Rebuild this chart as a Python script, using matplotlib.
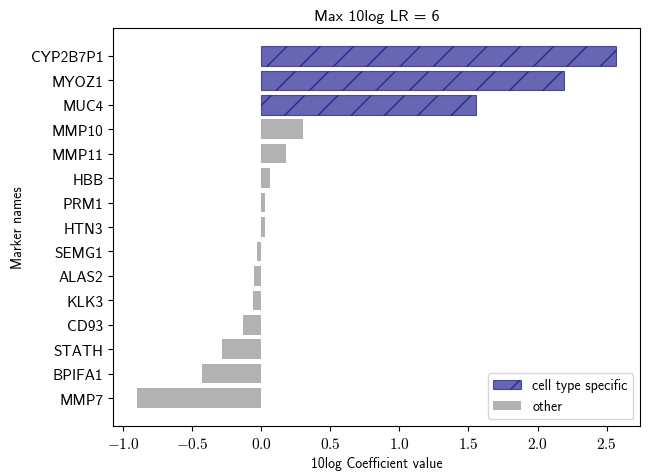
import matplotlib
matplotlib.use('Agg')
import matplotlib.pyplot as plt
from matplotlib.ticker import FuncFormatter

plt.rcParams['mathtext.fontset'] = 'cm'
plt.rcParams['font.family'] = ['cmss10', 'DejaVu Sans']

# Marker coefficients, top to bottom
markers = ['CYP2B7P1', 'MYOZ1', 'MUC4', 'MMP10', 'MMP11', 'HBB', 'PRM1',
           'HTN3', 'SEMG1', 'ALAS2', 'KLK3', 'CD93', 'STATH', 'BPIFA1', 'MMP7']
coefs = [2.57, 2.195, 1.555, 0.305, 0.178, 0.065, 0.03,
         0.03, -0.031, -0.05, -0.058, -0.132, -0.282, -0.431, -0.899]
specific = ['CYP2B7P1', 'MYOZ1', 'MUC4']

fig = plt.figure(figsize=(6.5, 4.77), dpi=100)
ax = fig.add_axes([0.174, 0.105, 0.811, 0.834])

spec_names = [m for m in markers if m in specific]
spec_vals = [v for m, v in zip(markers, coefs) if m in specific]
other_names = [m for m in markers if m not in specific]
other_vals = [v for m, v in zip(markers, coefs) if m not in specific]

# register categories in display order first
ax.barh(markers, [0] * len(markers), height=0)
ax.barh(spec_names, spec_vals, height=0.8, color='navy', alpha=0.6,
        edgecolor='navy', linewidth=0.8, hatch='/', label='cell type specific')
ax.barh(other_names, other_vals, height=0.8, color='gray', alpha=0.6,
        label='other')
ax.invert_yaxis()

# serif math-style numbers on the value axis
ax.xaxis.set_major_formatter(FuncFormatter(lambda x, _: r'$\mathrm{%.1f}$' % x))

ax.set_title('Max 10log LR = 6', fontsize=11.5)
ax.set_xlabel('10log Coefficient value', fontsize=10)
ax.set_ylabel('Marker names', fontsize=10)
ax.tick_params(axis='y', labelsize=11)
ax.tick_params(axis='x', labelsize=11)
ax.legend(loc='lower right', fontsize=10)

fig.savefig('out.png', dpi=100)
